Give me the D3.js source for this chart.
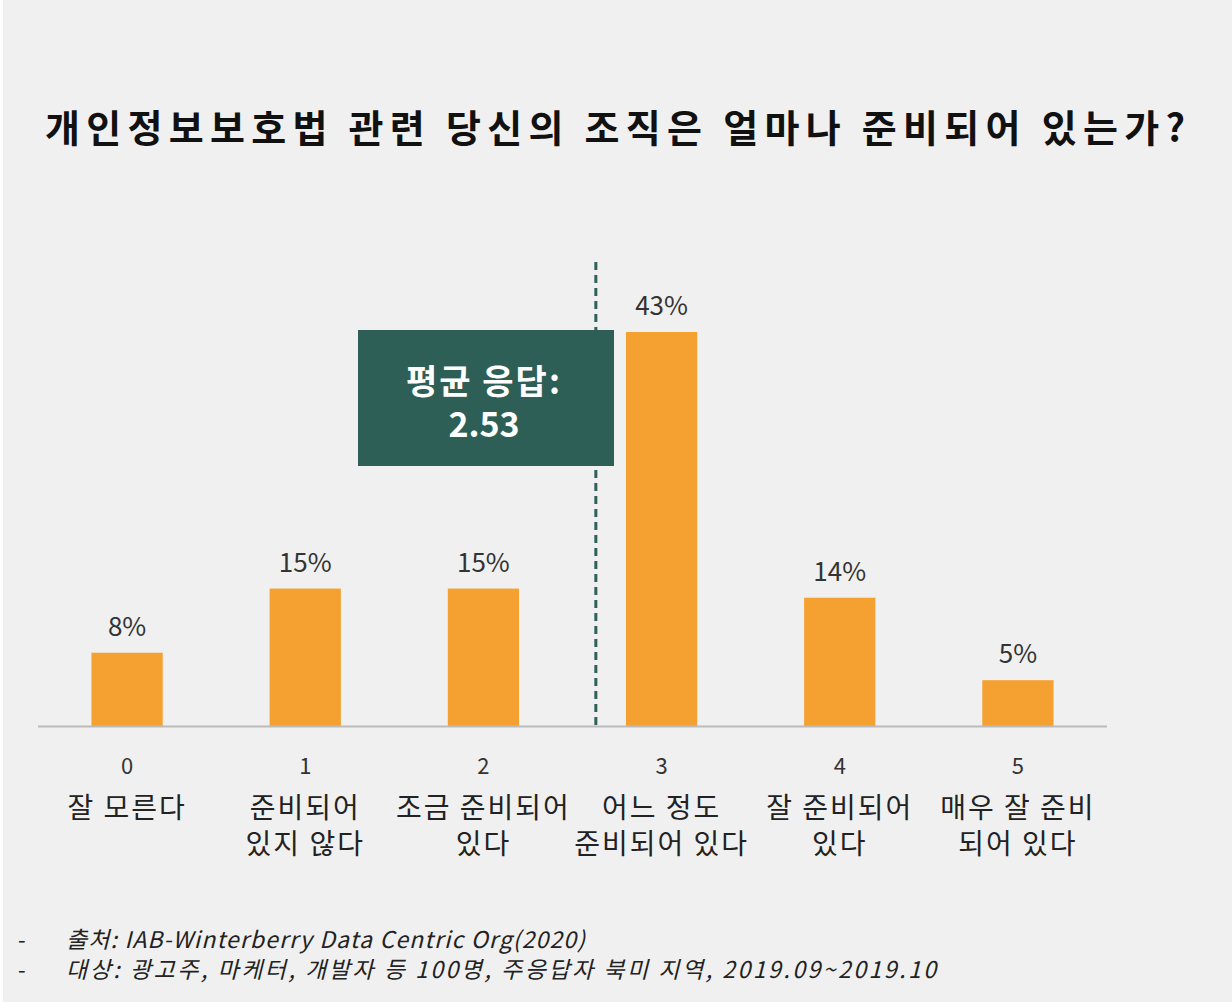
<!DOCTYPE html>
<html><head><meta charset="utf-8">
<script src="https://cdn.jsdelivr.net/npm/d3@7"></script>
<style>body{margin:0;background:#f0f0f0}svg{display:block}</style>
</head><body>
<script>
const ticks=["0","1","2","3","4","5"];
const labels=[["잘 모른다"],["준비되어","있지 않다"],["조금 준비되어","있다"],["어느 정도","준비되어 있다"],["잘 준비되어","있다"],["매우 잘 준비","되어 있다"]];
const values=[8,15,15,43,14,5];
const avg=2.53;
const title="개인정보보호법 관련 당신의 조직은 얼마나 준비되어 있는가?";
const notes=["출처: IAB-Winterberry Data Centric Org(2020)","대상: 광고주, 마케터, 개발자 등 100명, 주응답자 북미 지역, 2019.09~2019.10"];
const noteW=[519,870];
const F="'Noto Sans CJK KR','Noto Sans',sans-serif";
const svg=d3.select("body").append("svg").attr("width",1232).attr("height",1002).style("font-family",F);
svg.append("rect").attr("width",1232).attr("height",1002).attr("fill","#f0f0f0");
svg.append("rect").attr("width",3).attr("height",1002).attr("fill","#fff");
svg.append("text").attr("x",45).attr("y",142).attr("font-size",38).attr("font-weight","bold").attr("fill","#111").attr("textLength",1140).attr("lengthAdjust","spacing").text(title);
const x=d3.scaleBand().domain(ticks).range([38,1107]).paddingInner(0.6).paddingOuter(0.3);
const y=d3.scaleLinear().domain([0,43]).range([726,332]);
svg.selectAll(".b").data(values).join("rect").attr("x",(d,i)=>x(ticks[i])).attr("width",x.bandwidth()).attr("y",d=>y(d)).attr("height",d=>726-y(d)).attr("fill","#f5a132");
svg.selectAll(".v").data(values).join("text").attr("x",(d,i)=>x(ticks[i])+x.bandwidth()/2).attr("y",d=>y(d)-17).attr("text-anchor","middle").attr("font-size",26).attr("fill","#333").text(d=>d+"%");
svg.append("line").attr("x1",38).attr("x2",1107).attr("y1",726.5).attr("y2",726.5).attr("stroke","#bbb").attr("stroke-width",2);
const ax=svg.append("g");
ticks.forEach((t,i)=>{const cx=x(t)+x.bandwidth()/2;
 ax.append("text").attr("x",cx).attr("y",774).attr("text-anchor","middle").attr("font-size",22).attr("fill","#333").text(t);
 labels[i].forEach((l,j)=>ax.append("text").attr("x",cx).attr("y",818+j*36).attr("text-anchor","middle").attr("font-size",28).attr("letter-spacing",2).attr("fill","#222").text(l));});
const step=x.step(), c0=x("0")+x.bandwidth()/2;
const ax2=d3.scaleLinear().domain([0,5]).range([c0,c0+5*step]);
const xa=ax2(avg)+18;
svg.append("line").attr("x1",xa).attr("x2",xa).attr("y1",262).attr("y2",726).attr("stroke","#2e6158").attr("stroke-width",3).attr("stroke-dasharray","8,5");
svg.append("rect").attr("x",358).attr("y",330).attr("width",256).attr("height",136).attr("fill","#2d5f57");
svg.append("text").attr("x",484).attr("y",394).attr("text-anchor","middle").attr("font-size",34).attr("font-weight","bold").attr("letter-spacing",2).attr("fill","#fff").text("평균 응답:");
svg.append("text").attr("x",484).attr("y",437).attr("text-anchor","middle").attr("font-size",34).attr("font-weight","bold").attr("fill","#fff").text(avg.toFixed(2));
notes.forEach((n,i)=>{svg.append("text").attr("x",18).attr("y",948+i*30).attr("font-size",22).attr("fill","#222").text("-");
 svg.append("text").attr("x",66).attr("y",948+i*30).attr("font-size",23).attr("font-style","italic").attr("fill","#222").attr("textLength",noteW[i]).attr("lengthAdjust","spacing").text(n);});
</script></body></html>
